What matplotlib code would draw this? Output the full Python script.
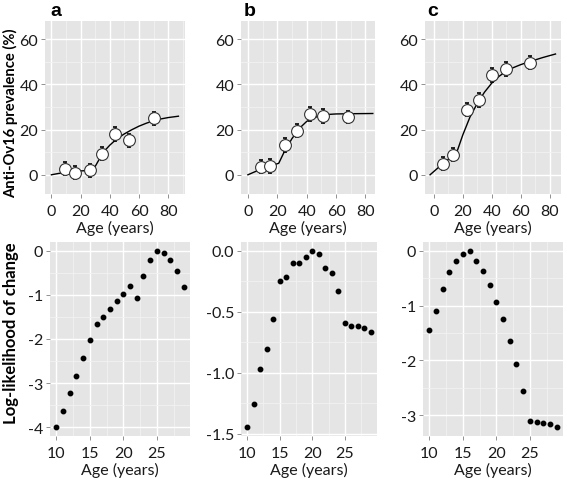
import matplotlib
matplotlib.use("Agg")
import matplotlib.pyplot as plt
from matplotlib.ticker import MultipleLocator

# ---------------- data ----------------
# top row: prevalence by age (points with error bars) and fitted curve
age_a = [9.4, 16.1, 26.2, 34.9, 43.7, 53.3, 70.2]
prev_a = [2.7, 0.9, 1.9, 9.4, 18.1, 15.2, 25.1]
hi_a = [5.5, 3.8, 4.6, 12.2, 21.3, 18.2, 27.8]
lo_a = [-0.3, -1.9, -0.8, 6.5, 15.1, 12.2, 22.2]
curve_x_a = [0, 5, 10, 15, 20, 28.5, 32, 36, 40, 45, 50, 55, 60, 65, 70, 75, 80, 87]
curve_y_a = [0, 0.6, 1.0, 1.4, 1.7, 2.0, 6.0, 10.3, 13.1, 16.0, 18.1, 19.9, 21.5, 22.8, 23.9, 24.7, 25.3, 25.9]

age_b = [8.6, 15.2, 25.0, 33.4, 42.3, 51.4, 68.4]
prev_b = [3.6, 3.9, 13.0, 19.4, 27.0, 25.9, 25.5]
hi_b = [6.5, 6.8, 16.1, 22.4, 30.0, 28.9, 28.3]
lo_b = [0.8, 1.0, 10.0, 16.5, 24.0, 23.0, 22.7]
curve_x_b = [0, 5, 10, 15, 21, 25, 30, 35, 40, 45, 50, 55, 60, 70, 85]
curve_y_b = [0, 1.4, 2.7, 3.8, 5.1, 10.5, 16.0, 20.5, 23.6, 25.3, 26.2, 26.7, 26.9, 27.0, 27.1]

age_c = [6.4, 13.1, 22.8, 31.5, 40.5, 49.7, 66.2]
prev_c = [4.8, 8.8, 28.8, 33.1, 44.2, 46.6, 49.6]
hi_c = [7.8, 11.8, 31.8, 36.2, 47.3, 49.7, 52.5]
lo_c = [2.0, 6.0, 25.8, 30.0, 41.0, 43.5, 46.8]
curve_x_c = [-2.5, 5, 10, 16, 20, 25, 30, 35, 40, 45, 50, 55, 60, 65, 70, 75, 80, 84]
curve_y_c = [0, 4.2, 6.8, 10.1, 17.5, 25.5, 31.5, 36.5, 40.5, 43.5, 45.8, 47.4, 48.7, 49.8, 50.8, 51.8, 52.7, 53.4]

# bottom row: log-likelihood of change point age
cp_age = list(range(10, 30))
ll_a = [-4.0, -3.63, -3.23, -2.84, -2.44, -2.03, -1.67, -1.49, -1.31, -1.14,
        -0.98, -0.79, -1.07, -0.57, -0.20, 0.0, -0.06, -0.20, -0.45, -0.82]
ll_b = [-1.448, -1.258, -0.97, -0.81, -0.56, -0.252, -0.217, -0.10, -0.10, -0.047,
        0.0, -0.025, -0.145, -0.184, -0.33, -0.592, -0.62, -0.62, -0.633, -0.67]
ll_c = [-1.45, -1.09, -0.70, -0.39, -0.18, -0.05, 0.0, -0.19, -0.37, -0.63,
        -0.93, -1.25, -1.64, -2.06, -2.55, -3.10, -3.13, -3.15, -3.17, -3.22]

panel_letters = ["a", "b", "c"]
top_xticks = [0, 20, 40, 60, 80]
top_yticks = [0, 20, 40, 60]
bot_xticks = [10, 15, 20, 25]
bot_yticks_a = [0, -1, -2, -3, -4]
bot_yticks_b = [0.0, -0.5, -1.0, -1.5]
bot_yticks_c = [0, -1, -2, -3]

# ---------------- style ----------------
W, H = 567, 481
fig = plt.figure(figsize=(W / 100, H / 100), dpi=100)
TICKFONT = ["Lato", "DejaVu Sans"]
BG = "#E5E5E5"
TICKSIZE = 11.5


def px_axes(left, top, right, bottom):
    return fig.add_axes([left / W, 1 - bottom / H, (right - left) / W, (bottom - top) / H])


def style(ax, xmin, ymin, xticks, yticks, yfmt):
    ax.set_facecolor(BG)
    for s in ax.spines.values():
        s.set_visible(False)
    ax.xaxis.set_minor_locator(MultipleLocator(xmin))
    ax.yaxis.set_minor_locator(MultipleLocator(ymin))
    ax.set_xticks(xticks)
    ax.set_xticklabels([str(t) for t in xticks], family=TICKFONT)
    ax.set_yticks(yticks)
    ax.set_yticklabels([yfmt.format(t) for t in yticks], family=TICKFONT)
    ax.grid(which="major", color="white", lw=1.0, zorder=0)
    ax.grid(which="minor", color="#F2F2F2", lw=0.6, zorder=0)
    ax.set_axisbelow(True)
    ax.tick_params(which="major", length=3, width=0.6, color="#7F7F7F",
                   labelsize=TICKSIZE, labelcolor="#1A1A1A")
    ax.tick_params(axis="y", pad=2)
    ax.tick_params(axis="x", pad=4)
    ax.tick_params(which="minor", length=0)
    ax.set_xlabel("Age (years)", fontsize=11.5, family=TICKFONT, color="#1A1A1A",
                  labelpad=1.5)


top_boxes = [(45, 22, 185, 195), (241, 22, 375, 195), (425, 22, 561, 195)]
bot_boxes = [(50, 243, 190, 437), (241, 243, 377, 437), (423, 243, 563, 437)]

top_sets = [
    (age_a, prev_a, hi_a, lo_a, curve_x_a, curve_y_a),
    (age_b, prev_b, hi_b, lo_b, curve_x_b, curve_y_b),
    (age_c, prev_c, hi_c, lo_c, curve_x_c, curve_y_c),
]
xlims_top = [(-4.4, 91.5), (-4.7, 86.5), (-6.0, 87.8)]

for i, (box, (ax_, pv, hi, lo, cx, cy)) in enumerate(zip(top_boxes, top_sets)):
    ax = px_axes(*box)
    ax.plot(cx, cy, color="black", lw=1.0, zorder=3)
    yerr = [[p - l for p, l in zip(pv, lo)], [h - p for p, h in zip(pv, hi)]]
    ax.errorbar(ax_, pv, yerr=yerr, fmt="none", ecolor="black", elinewidth=0.7,
                capsize=1.5, capthick=1.2, zorder=4)
    ax.plot(ax_, pv, "o", ms=8.5, mfc="white", mec="#333333", mew=0.8, zorder=5)
    ax.set_xlim(*xlims_top[i])
    ax.set_ylim(-8.5, 68.0)
    style(ax, 10, 10, top_xticks, top_yticks, "{:d}")

for i, x in enumerate([50, 244, 427]):
    fig.text(x / W, 1 - 11 / H, panel_letters[i], fontsize=14, fontweight="bold",
             family="Liberation Sans", ha="left", va="center")

bot_sets = [(ll_a, (-4.2, 0.2), 0.5, bot_yticks_a, "{:d}"),
            (ll_b, (-1.52, 0.072), 0.25, bot_yticks_b, "{:.1f}"),
            (ll_c, (-3.38, 0.16), 0.5, bot_yticks_c, "{:d}")]
for i, (box, (ll, ylim, ymin, yticks, fmt)) in enumerate(zip(bot_boxes, bot_sets)):
    ax = px_axes(*box)
    ax.plot(cp_age, ll, "o", ms=3.2, color="black", zorder=4)
    ax.set_xlim(9.05, 29.95)
    ax.set_ylim(*ylim)
    style(ax, 2.5, ymin, bot_xticks, yticks, fmt)

fig.text(11 / W, 1 - 113 / H, "Anti-Ov16 prevalence (%)", rotation=90, fontsize=10.6,
         fontweight="bold", family=TICKFONT, ha="center", va="center")
fig.text(11 / W, 1 - 333 / H, "Log-likelihood of change", rotation=90, fontsize=12,
         fontweight="bold", family=TICKFONT, ha="center", va="center")

fig.savefig("out.png", dpi=100, facecolor="white")
